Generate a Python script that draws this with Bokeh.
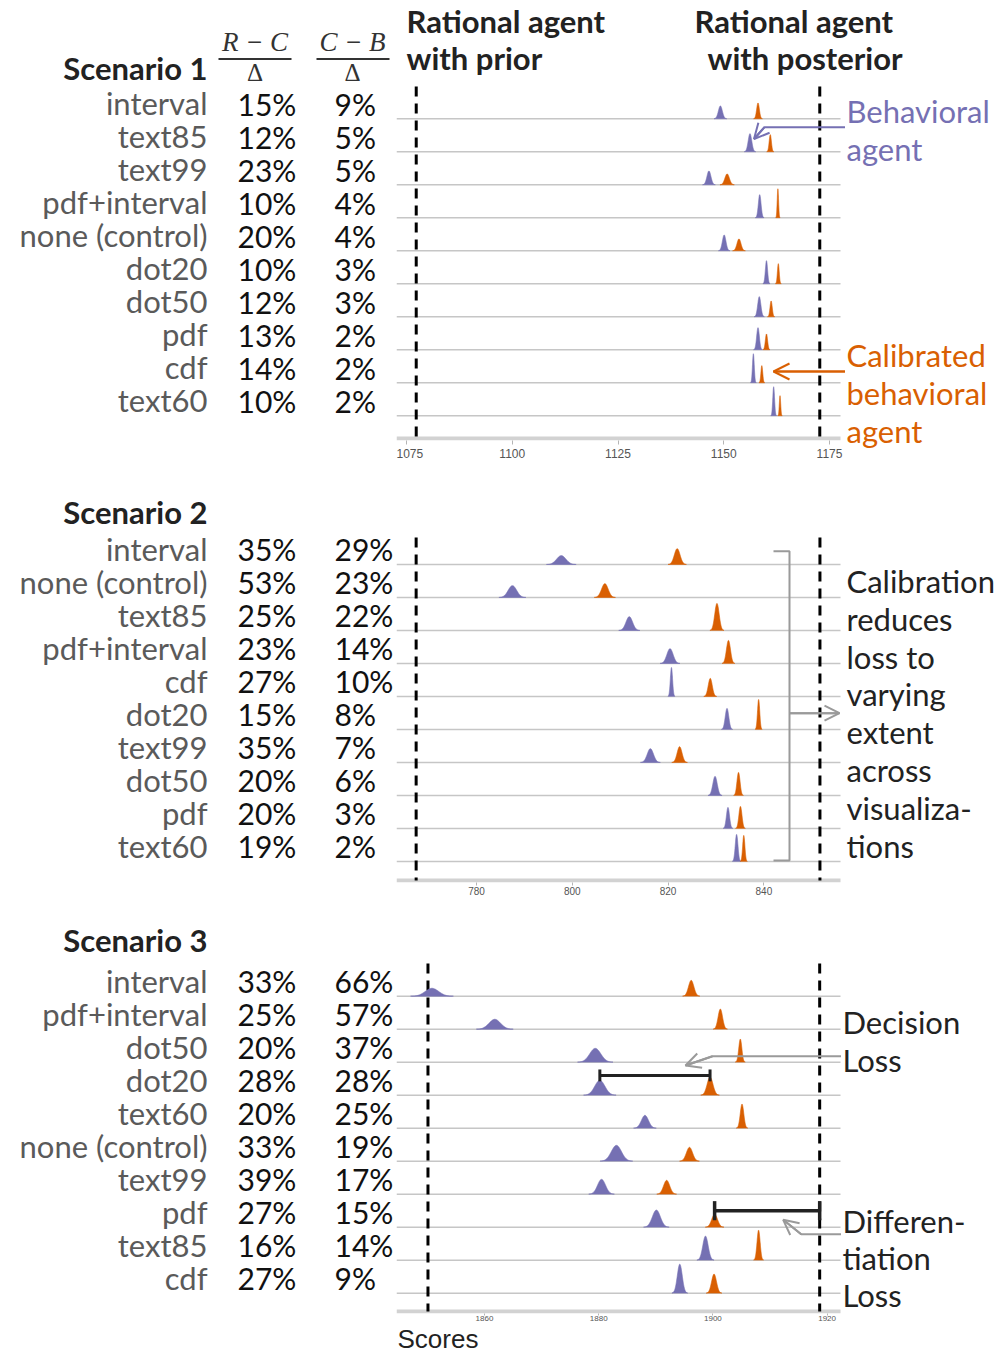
import numpy as np
from bokeh.plotting import figure
from bokeh.models import Range1d, FixedTicker, Arrow, OpenHead, Label
from bokeh.layouts import column, row
from bokeh.core.properties import value
from bokeh.embed import file_html
from bokeh.resources import INLINE

PURPLE = "#7570b3"
ORANGE = "#d95f02"
SANS = "Lato"
SERIF = "Liberation Serif"
GRAY_ARROW = "#9a9a9a"

# ---------------- Scenario 1 ----------------
s1_names = ["interval", "text85", "text99", "pdf+interval", "none (control)",
            "dot20", "dot50", "pdf", "cdf", "text60"]
s1_rc = [15, 12, 23, 10, 20, 10, 12, 13, 14, 10]
s1_cb = [9, 5, 5, 4, 4, 3, 3, 2, 2, 2]
s1_beh_mean = [1149.2, 1156.2, 1146.5, 1158.5, 1150.1, 1160.1, 1158.4, 1158.1, 1157.0, 1161.8]
s1_beh_sd = [0.47, 0.42, 0.47, 0.32, 0.42, 0.26, 0.37, 0.32, 0.21, 0.21]
s1_beh_h = [0.39, 0.55, 0.42, 0.70, 0.48, 0.70, 0.61, 0.67, 0.88, 0.88]
s1_cal_mean = [1158.1, 1161.0, 1150.8, 1162.8, 1153.6, 1162.9, 1161.2, 1160.1, 1159.0, 1163.3]
s1_cal_sd = [0.32, 0.26, 0.53, 0.16, 0.47, 0.21, 0.26, 0.26, 0.21, 0.16]
s1_cal_h = [0.48, 0.52, 0.33, 0.88, 0.36, 0.61, 0.48, 0.48, 0.52, 0.61]
s1_prior, s1_post = 1077.3, 1172.7
s1_ticks = [1075, 1100, 1125, 1150, 1175]

# ---------------- Scenario 2 ----------------
s2_names = ["interval", "none (control)", "text85", "pdf+interval", "cdf",
            "dot20", "text99", "dot50", "pdf", "text60"]
s2_rc = [35, 53, 25, 23, 27, 15, 35, 20, 20, 19]
s2_cb = [29, 23, 22, 14, 10, 8, 7, 6, 3, 2]
s2_beh_mean = [797.7, 787.5, 811.9, 820.4, 820.7, 832.3, 816.3, 829.8, 832.5, 834.3]
s2_beh_sd = [0.97, 0.88, 0.69, 0.65, 0.23, 0.37, 0.65, 0.46, 0.32, 0.28]
s2_beh_h = [0.27, 0.36, 0.42, 0.45, 0.88, 0.64, 0.42, 0.58, 0.64, 0.82]
s2_cal_mean = [821.9, 806.8, 830.2, 832.6, 828.8, 838.9, 822.4, 834.7, 835.1, 835.8]
s2_cal_sd = [0.60, 0.69, 0.46, 0.42, 0.42, 0.23, 0.51, 0.32, 0.32, 0.23]
s2_cal_h = [0.48, 0.42, 0.82, 0.70, 0.55, 0.91, 0.48, 0.70, 0.67, 0.79]
s2_prior, s2_post = 767.4, 851.7
s2_ticks = [780, 800, 820, 840]

# ---------------- Scenario 3 ----------------
s3_names = ["interval", "pdf+interval", "dot50", "dot20", "text60",
            "none (control)", "text99", "pdf", "text85", "cdf"]
s3_rc = [33, 25, 20, 28, 20, 33, 39, 27, 16, 27]
s3_cb = [66, 57, 37, 28, 25, 19, 17, 15, 14, 9]
s3_beh_mean = [1850.8, 1861.8, 1879.4, 1880.2, 1888.1, 1883.1, 1880.5, 1890.1, 1898.7, 1894.2]
s3_beh_sd = [1.17, 1.01, 0.97, 0.89, 0.62, 0.89, 0.70, 0.70, 0.47, 0.43]
s3_beh_h = [0.24, 0.30, 0.42, 0.45, 0.39, 0.48, 0.45, 0.52, 0.73, 0.88]
s3_cal_mean = [1896.2, 1901.3, 1904.8, 1899.5, 1905.1, 1895.9, 1891.9, 1900.3, 1908.0, 1900.2]
s3_cal_sd = [0.47, 0.39, 0.27, 0.51, 0.31, 0.54, 0.54, 0.51, 0.27, 0.43]
s3_cal_h = [0.48, 0.61, 0.70, 0.55, 0.73, 0.42, 0.42, 0.39, 0.91, 0.58]
s3_prior, s3_post = 1850.1, 1918.7
s3_ticks = [1860, 1880, 1900, 1920]

TOTAL_W = 999
LEFT_W = 396
ROW = 33.0
TDY_K = 0.42        # baseline correction, fraction of font size
NAME_FS = 31
PCT_FS = 30
HEAD_FS = 31
NOTE_FS = 31


def no_align(f):
    try:
        f.frame_align = False
    except Exception:
        pass


def label(p, x, y, text, color="#222222", size=NOTE_FS, font=SANS, style="normal",
          align="left"):
    p.add_layout(Label(x=x, y=y - TDY_K * size, x_range_name="px", y_range_name="py",
                       text=text, text_color=color, text_font_size=f"{size}px",
                       text_font=font, text_font_style=style, text_align=align,
                       text_baseline="alphabetic"))


def arrow(p, pts, color, size=15, width=2):
    xs = [q[0] for q in pts]
    ys = [q[1] for q in pts]
    p.line(xs, ys, x_range_name="px", y_range_name="py", line_color=color, line_width=width)
    p.add_layout(Arrow(x_start=xs[-2], y_start=ys[-2], x_end=xs[-1], y_end=ys[-1],
                       x_range_name="px", y_range_name="py", line_color=color,
                       line_width=width,
                       end=OpenHead(size=size, line_color=color, line_width=width)))


def density(mean, sd, h, base):
    xs, ys = [], []
    for m, s, hh, b in zip(mean, sd, h, base):
        x = np.linspace(m - 3.2 * s, m + 3.2 * s, 90)
        y = b + hh * np.exp(-0.5 * ((x - m) / s) ** 2)
        xs.append(list(x))
        ys.append(list(y))
    return xs, ys


def blank(x0, x1, top, height):
    f = figure(width=x1 - x0, height=height, x_range=Range1d(x0, x1),
               y_range=Range1d(top + height, top), output_backend="svg",
               toolbar_location=None, title=None, x_axis_location=None,
               y_axis_location=None, min_border=0)
    f.extra_x_ranges = {"px": Range1d(x0, x1)}
    f.extra_y_ranges = {"py": Range1d(top + height, top)}
    f.outline_line_color = None
    f.grid.visible = False
    no_align(f)
    return f


def make_panel(names, rc, cb, bm, bs, bh, cm, cs, ch, prior, post, ticks,
               left_top, main_top, frame_bottom, panel_bottom, row0, anchor_val,
               anchor_px, scale, tick_size, tick_out, standoff, dash_top,
               header, header_y, split):
    n = len(names)
    # ---- left text column ----
    left = blank(0, LEFT_W, left_top, panel_bottom - left_top)
    base = [row0 + ROW * i - 2.5 for i in range(n)]
    left.text(x=207, y=[b - TDY_K * NAME_FS for b in base], text=names,
              x_range_name="px", y_range_name="py", text_align="right",
              text_baseline="alphabetic", text_font=value(SANS),
              text_font_size=f"{NAME_FS}px", text_color="#5a5a5a")
    yp = [b - TDY_K * PCT_FS for b in base]
    left.text(x=237, y=yp, text=[f"{r}%" for r in rc], x_range_name="px",
              y_range_name="py", text_align="left", text_baseline="alphabetic",
              text_font=value(SANS), text_font_size=f"{PCT_FS}px", text_color="#111111")
    left.text(x=334, y=yp, text=[f"{c}%" for c in cb], x_range_name="px",
              y_range_name="py", text_align="left", text_baseline="alphabetic",
              text_font=value(SANS), text_font_size=f"{PCT_FS}px", text_color="#111111")
    label(left, 207, header_y, header, size=HEAD_FS, style="bold", align="right")

    # ---- plot ----
    axis_y = frame_bottom - 2
    v0_page = row0 + ROW * (n - 1)
    xr = Range1d(anchor_val + (LEFT_W - anchor_px) / scale,
                 anchor_val + (split - anchor_px) / scale)
    yr = Range1d(-(frame_bottom - v0_page) / ROW, (v0_page - main_top) / ROW)
    p = figure(width=split - LEFT_W, height=panel_bottom - main_top, x_range=xr,
               y_range=yr, output_backend="svg", toolbar_location=None, title=None,
               y_axis_location=None, min_border=0,
               min_border_bottom=panel_bottom - frame_bottom)
    no_align(p)
    p.extra_x_ranges = {"px": Range1d(LEFT_W, split)}
    p.extra_y_ranges = {"py": Range1d(frame_bottom, main_top)}
    p.outline_line_color = None
    p.grid.visible = False
    ax = p.xaxis[0]
    ax.ticker = FixedTicker(ticks=ticks)
    ax.axis_line_color = None
    ax.major_tick_line_color = "#b5b5b5"
    ax.major_tick_in = 0
    ax.major_tick_out = tick_out
    ax.minor_tick_line_color = None
    ax.major_label_text_font = "Liberation Sans"
    ax.major_label_text_font_size = tick_size
    ax.major_label_text_color = "#555555"
    ax.major_label_standoff = standoff

    yv = [n - 1 - i for i in range(n)]
    p.segment(x0=396, x1=840, y0=yv, y1=yv, x_range_name="px",
              line_color="#c6c6c6", line_width=1.4)
    p.segment(x0=[396], x1=[840], y0=[axis_y], y1=[axis_y], x_range_name="px",
              y_range_name="py", line_color="#d2d2d2", line_width=4)
    p.segment(x0=[prior, post], x1=[prior, post], y0=[dash_top, dash_top],
              y1=[axis_y, axis_y], y_range_name="py", line_color="black",
              line_width=3, line_dash="10 7")
    xs, ys = density(bm, bs, bh, yv)
    p.patches(xs, ys, fill_color=PURPLE, line_color=PURPLE, line_width=0.6)
    xs, ys = density(cm, cs, ch, yv)
    p.patches(xs, ys, fill_color=ORANGE, line_color=ORANGE, line_width=0.6)

    side = blank(split, TOTAL_W, main_top, panel_bottom - main_top)
    return left, p, side, yv


# ---------------- Panel 1 ----------------
l1, p1, s1, yv1 = make_panel(s1_names, s1_rc, s1_cb, s1_beh_mean, s1_beh_sd, s1_beh_h,
                             s1_cal_mean, s1_cal_sd, s1_cal_h, s1_prior, s1_post, s1_ticks,
                             left_top=0, main_top=85, frame_bottom=440, panel_bottom=465,
                             row0=118.3, anchor_val=1075, anchor_px=406, scale=4.23,
                             tick_size="12px", tick_out=4, standoff=4, dash_top=86,
                             header="Scenario 1", header_y=81, split=845)
t1 = blank(LEFT_W, TOTAL_W, 0, 85)
label(t1, 406, 34, "Rational agent", size=HEAD_FS, style="bold")
label(t1, 406, 71, "with prior", size=HEAD_FS, style="bold")
label(t1, 694, 34, "Rational agent", size=HEAD_FS, style="bold")
label(t1, 707, 71, "with posterior", size=HEAD_FS, style="bold")
label(l1, 254.5, 53, "R − C", size=27, font=SERIF, style="italic", align="center", color="#333333")
label(l1, 352, 53, "C − B", size=27, font=SERIF, style="italic", align="center", color="#333333")
label(l1, 254.5, 82, "Δ", size=25, font=SERIF, align="center", color="#333333")
label(l1, 352, 82, "Δ", size=25, font=SERIF, align="center", color="#333333")
l1.segment(x0=[218, 316], x1=[291, 389], y0=[58.5, 58.5], y1=[58.5, 58.5],
           x_range_name="px", y_range_name="py", line_color="#333333", line_width=2.2)
label(s1, 846, 123.5, "Behavioral", color=PURPLE)
label(s1, 846, 161.5, "agent", color=PURPLE)
label(s1, 846, 367.5, "Calibrated", color=ORANGE)
label(s1, 846, 405.5, "behavioral", color=ORANGE)
label(s1, 846, 443.5, "agent", color=ORANGE)
arrow(p1, [(846, 126.7), (764, 126.7), (753.5, 138.5)], PURPLE, size=15)
arrow(p1, [(846, 371), (773, 371)], ORANGE, size=16)

# ---------------- Panel 2 ----------------
l2, p2, s2, yv2 = make_panel(s2_names, s2_rc, s2_cb, s2_beh_mean, s2_beh_sd, s2_beh_h,
                             s2_cal_mean, s2_cal_sd, s2_cal_h, s2_prior, s2_post, s2_ticks,
                             left_top=465, main_top=465, frame_bottom=882, panel_bottom=900,
                             row0=564, anchor_val=780, anchor_px=476, scale=4.79,
                             tick_size="10px", tick_out=3, standoff=1, dash_top=537,
                             header="Scenario 2", header_y=525, split=843)
p2.line([773, 789, 789, 773], [550.7, 550.7, 860, 860], x_range_name="px",
        y_range_name="py", line_color=GRAY_ARROW, line_width=2)
arrow(p2, [(789, 712.7), (839, 712.7)], GRAY_ARROW, size=15)
for k, t in enumerate(["Calibration", "reduces", "loss to", "varying", "extent",
                       "across", "visualiza-", "tions"]):
    label(s2, 846, 593.3 + 37.86 * k, t)

# ---------------- Panel 3 ----------------
l3, p3, s3, yv3 = make_panel(s3_names, s3_rc, s3_cb, s3_beh_mean, s3_beh_sd, s3_beh_h,
                             s3_cal_mean, s3_cal_sd, s3_cal_h, s3_prior, s3_post, s3_ticks,
                             left_top=900, main_top=900, frame_bottom=1313, panel_bottom=1325,
                             row0=995.7, anchor_val=1860, anchor_px=484, scale=5.71,
                             tick_size="8px", tick_out=2, standoff=0, dash_top=963,
                             header="Scenario 3", header_y=953, split=841)
i_dl = s3_names.index("dot20")
i_df = s3_names.index("pdf")
y_dl = yv3[i_dl] + 0.6
y_df = yv3[i_df] + 0.5
p3.segment(x0=[s3_beh_mean[i_dl]], x1=[s3_cal_mean[i_dl]], y0=[y_dl], y1=[y_dl],
           line_color="#222222", line_width=3)
p3.segment(x0=[s3_beh_mean[i_dl], s3_cal_mean[i_dl]], x1=[s3_beh_mean[i_dl], s3_cal_mean[i_dl]],
           y0=[y_dl - 0.18] * 2, y1=[y_dl + 0.18] * 2, line_color="#222222", line_width=3)
p3.segment(x0=[s3_cal_mean[i_df]], x1=[s3_post], y0=[y_df], y1=[y_df],
           line_color="#222222", line_width=3.5)
p3.segment(x0=[s3_cal_mean[i_df], s3_post], x1=[s3_cal_mean[i_df], s3_post],
           y0=[y_df - 0.29] * 2, y1=[y_df + 0.29] * 2, line_color="#222222", line_width=3.5)
arrow(p3, [(841, 1055.7), (712, 1055.7), (685, 1065)], GRAY_ARROW, size=15)
arrow(p3, [(841, 1233.7), (800.7, 1233.7), (782.7, 1219.3)], GRAY_ARROW, size=15)
for t, yy in [("Decision", 1035), ("Loss", 1072.7), ("Differen-", 1233.3),
              ("tiation", 1270.5), ("Loss", 1307.5)]:
    label(s3, 842, yy, t)

# ---- bottom strip with axis title ----
p4 = blank(0, TOTAL_W, 1325, 30)
label(p4, 397, 1349.5, "Scores", size=26, font="Liberation Sans")

layout = column(
    row(l1, column(t1, row(p1, s1, spacing=0), spacing=0), spacing=0),
    row(l2, p2, s2, spacing=0),
    row(l3, p3, s3, spacing=0),
    p4,
    spacing=0,
)
open("out.html", "w").write(file_html(layout, INLINE))
